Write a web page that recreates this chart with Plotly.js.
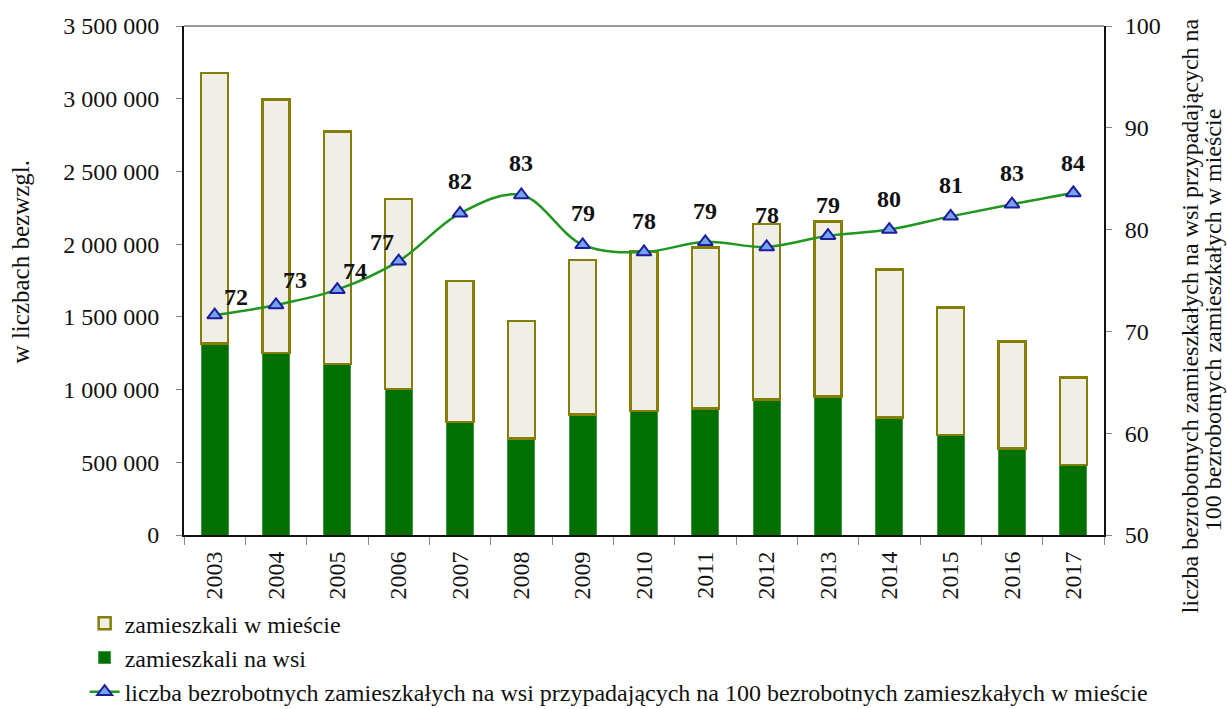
<!DOCTYPE html>
<html>
<head>
<meta charset="utf-8">
<script src="https://cdn.plot.ly/plotly-3.0.1.min.js"></script>
<style>
html,body{margin:0;padding:0;background:#fff;}
#chart{width:1227px;height:709px;}
</style>
</head>
<body>
<div id="chart"></div>
<script>
const years = ['2003','2004','2005','2006','2007','2008','2009','2010','2011','2012','2013','2014','2015','2016','2017'];
const totalUnemployed = [3177000, 2996000, 2773000, 2309000, 1748000, 1472000, 1891000, 1949000, 1978000, 2137000, 2155000, 1827000, 1563000, 1332000, 1082000];
const ruralUnemployed = [1317000, 1253000, 1175000, 1003000, 777000, 665000, 830000, 853000, 869000, 933000, 951000, 807000, 688000, 596000, 481000];
const ratioPer100 = [71.6, 72.6, 74.1, 76.9, 81.6, 83.4, 78.5, 77.8, 78.8, 78.3, 79.4, 80.0, 81.3, 82.5, 83.6];
const ratioLabels = ['72','73','74','77','82','83','79','78','79','78','79','80','81','83','84'];
const leftTicks = [0, 500000, 1000000, 1500000, 2000000, 2500000, 3000000, 3500000];
const rightTicks = [50, 60, 70, 80, 90, 100];

const urbanUnemployed = totalUnemployed.map((t, i) => t - ruralUnemployed[i]);

const serif = "'Liberation Serif', 'Times New Roman', serif";
const labelShiftX = [21, 19, 18, -17, 0, 0, 0, 0, 0, 0, 0, 0, 0, 0, 0];
const labelShiftY = [18, 25, 19, 19, 32, 32, 32, 31, 31, 32, 31, 31, 31, 31, 30];

const traces = [
  {
    type: 'bar', x: years, y: ruralUnemployed, name: 'zamieszkali na wsi',
    width: 0.44, legendrank: 2, legendgroup: 'b',
    marker: {color: '#026f02', line: {color: '#3f9a3f', width: 1}}
  },
  {
    type: 'bar', x: years, y: urbanUnemployed, name: 'zamieszkali w mieście',
    width: 0.44, legendrank: 1, legendgroup: 'a',
    marker: {color: '#efefe8', line: {color: '#857f05', width: 2.5}}
  },
  {
    type: 'scatter', mode: 'lines+markers', x: years, y: ratioPer100, yaxis: 'y2',
    name: 'liczba bezrobotnych zamieszkałych na wsi przypadających na 100 bezrobotnych zamieszkałych w mieście',
    legendrank: 3, legendgroup: 'c',
    line: {color: '#1f961f', width: 2.5, shape: 'spline', smoothing: 1},
    marker: {symbol: 'triangle-up', size: 13, color: '#74a4ec', line: {color: '#1c1c9c', width: 2}}
  }
];

const annotations = ratioPer100.map((v, i) => ({
  x: i, y: v, xref: 'x', yref: 'y2', text: '<b>' + ratioLabels[i] + '</b>', showarrow: false,
  xanchor: 'center', yanchor: 'middle',
  xshift: labelShiftX[i], yshift: labelShiftY[i],
  font: {family: serif, size: 24, color: '#111'}
}));

annotations.push({
  xref: 'paper', yref: 'paper', x: -0.178, y: 0.536, xanchor: 'center', yanchor: 'middle',
  textangle: -90, showarrow: false,
  text: 'w liczbach bezwzgl.', font: {family: serif, size: 25, color: '#111'}
});
annotations.push({
  xref: 'paper', yref: 'paper', x: 1.0935, y: 0.43, xanchor: 'center', yanchor: 'middle',
  textangle: -90, showarrow: false,
  text: 'liczba bezrobotnych zamieszkałych na wsi przypadających na',
  font: {family: serif, size: 24, color: '#111'}
});
annotations.push({
  xref: 'paper', yref: 'paper', x: 1.1185, y: 0.422, xanchor: 'center', yanchor: 'middle',
  textangle: -90, showarrow: false,
  text: '100 bezrobotnych zamieszkałych w mieście',
  font: {family: serif, size: 24, color: '#111'}
});

const layout = {
  width: 1227, height: 709,
  margin: {l: 184, r: 123, t: 26, b: 174, autoexpand: false},
  paper_bgcolor: '#fff', plot_bgcolor: '#fff',
  separators: ', ',
  barmode: 'stack',
  font: {family: serif, size: 24, color: '#111'},
  showlegend: true,
  legend: {
    orientation: 'v', x: -0.108, xanchor: 'left', y: -0.13, yanchor: 'top',
    traceorder: 'grouped', tracegroupgap: 0,
    font: {family: serif, size: 24, color: '#111'}, bgcolor: 'rgba(0,0,0,0)'
  },
  xaxis: {
    type: 'category', range: [-0.5, 14.5], showgrid: false, showline: true, linecolor: '#111', linewidth: 2,
    ticks: 'outside', tickson: 'boundaries', ticklen: 8, tickcolor: '#888', tickwidth: 1,
    tickangle: -90, ticklabelstandoff: 5, tickfont: {family: serif, size: 24, color: '#111'}
  },
  yaxis: {
    range: [0, 3500000], tickvals: leftTicks, tickformat: ',d', showgrid: false, zeroline: false,
    showline: true, linecolor: '#111', linewidth: 2, ticks: 'outside', ticklen: 6,
    tickcolor: '#888', ticklabelstandoff: 12,
    tickfont: {family: serif, size: 24, color: '#111'}
  },
  yaxis2: {
    range: [50, 100], tickvals: rightTicks, overlaying: 'y', side: 'right', showgrid: false,
    zeroline: false, showline: true, linecolor: '#111', linewidth: 2, ticks: 'outside',
    ticklen: 6, tickcolor: '#888', ticklabelstandoff: 8,
    tickfont: {family: serif, size: 24, color: '#111'}
  },
  shapes: [{type: 'line', xref: 'paper', yref: 'paper', x0: 0, x1: 1, y0: 1, y1: 1,
            line: {color: '#999', width: 2}}],
  annotations: annotations
};

Plotly.newPlot('chart', traces, layout, {displayModeBar: false, staticPlot: true});
</script>
</body>
</html>
